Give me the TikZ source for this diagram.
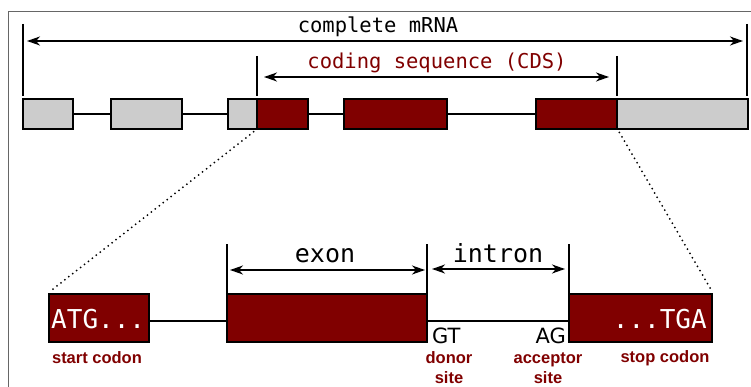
\documentclass[tikz,border=0pt]{standalone}
\usepackage{fontspec}
\setmainfont{Liberation Sans}
\newfontfamily\monof{DejaVu Sans Mono}
\newfontfamily\sansf{DejaVu Sans}
\usetikzlibrary{arrows.meta}
\definecolor{mred}{RGB}{128,0,0}
\definecolor{mgray}{RGB}{204,204,204}
\begin{document}
\begin{tikzpicture}[x=1pt,y=-1pt,
  box/.style={draw=black, line width=1.8pt, inner sep=0pt, minimum height=30pt},
  gbox/.style={box, fill=mgray},
  rbox/.style={box, fill=mred},
  bigbox/.style={draw=black, line width=2pt, inner sep=0pt, minimum height=48pt, fill=mred},
  conn/.style={line width=1.8pt},
  tickline/.style={line width=1.5pt},
  dimarrow/.style={line width=1.5pt, {Stealth[length=13pt,width=9pt,inset=4pt]}-{Stealth[length=13pt,width=9pt,inset=4pt]}},
  dimtxt/.style={font=\monof\fontsize{20.5}{24}\selectfont, inner sep=0pt},
  bigtxt/.style={font=\monof\fontsize{25}{30}\selectfont, inner sep=0pt},
  seqtxt/.style={font=\monof\fontsize{26}{30}\selectfont, inner sep=0pt, text=white},
  sitetxt/.style={font=\sansf\fontsize{21}{25}\selectfont, inner sep=0pt},
  lbl/.style={font=\bfseries\fontsize{16.5}{20}\selectfont, text=mred, inner sep=0pt, align=center},
  dots/.style={line width=2pt, line cap=round, dash pattern=on 0pt off 5pt, shorten <=3pt, shorten >=3pt}
]
\useasboundingbox (0,0) rectangle (751,387);
% frame
\draw[black!60, line width=1pt] (8,387) -- (8,12) -- (751,12);

% top row boxes
\node[gbox, minimum width=50pt] (b1) at (48,114) {};
\node[gbox, minimum width=71pt] (b2) at (146.5,114) {};
\node[gbox, minimum width=29pt] (b3g) at (242.5,114) {};
\node[rbox, minimum width=51pt] (b3r) at (282.5,114) {};
\node[rbox, minimum width=103pt] (b4) at (395.5,114) {};
\node[rbox, minimum width=81pt] (b5r) at (576.5,114) {};
\node[gbox, minimum width=131pt] (b5g) at (682.5,114) {};
\draw[conn] (b1.east) -- (b2.west);
\draw[conn] (b2.east) -- (b3g.west);
\draw[conn] (b3r.east) -- (b4.west);
\draw[conn] (b4.east) -- (b5r.west);

% top dimension lines
\coordinate (mt1) at (23,24);   \coordinate (mb1) at (23,96);
\coordinate (mt2) at (747,24);  \coordinate (mb2) at (747,96);
\coordinate (ct1) at (257,56);  \coordinate (cb1) at (257,96);
\coordinate (ct2) at (617,56);  \coordinate (cb2) at (617,96);
\draw[tickline] (mt1) -- (mb1);
\draw[tickline] (mt2) -- (mb2);
\draw[tickline] (ct1) -- (cb1);
\draw[tickline] (ct2) -- (cb2);
\coordinate (ma) at (23,41); \coordinate (mb) at (747,41);
\coordinate (ca) at (257,77); \coordinate (cb) at (617,77);
\draw[dimarrow, shorten <=4pt, shorten >=4pt] (ma) -- (mb);
\draw[dimarrow, shorten <=7pt, shorten >=8pt] (ca) -- (cb);
\node[dimtxt] (tm) at (378,27) {complete mRNA};
\node[dimtxt, text=mred] (tc) at (437,63) {coding sequence (CDS)};

% bottom row
\node[bigbox, minimum width=100pt] (atg) at (99,318) {};
\node[bigbox, minimum width=200pt] (exon) at (327,318) {};
\node[bigbox, minimum width=143pt] (stop) at (640.5,318) {};
\draw[conn] ([yshift=-3pt]atg.east) -- ([yshift=-3pt]exon.west);
\draw[conn] ([yshift=-3pt]exon.east) -- ([yshift=-3pt]stop.west);
\node[seqtxt, anchor=west] (atgt) at ([xshift=3pt,yshift=-1pt]atg.west) {ATG...};
\node[seqtxt, anchor=east] (tgat) at ([xshift=-6pt,yshift=-1pt]stop.east) {...TGA};

% dotted zoom lines
\draw[dots] (b3r.south west) -- (atg.north west);
\draw[dots] (b5r.south east) -- (stop.north east);

% bottom dimension lines
\coordinate (et1) at (227,244); \coordinate (eb1) at (227,294);
\coordinate (et2) at (427,244); \coordinate (eb2) at (427,294);
\coordinate (et3) at (569,244); \coordinate (eb3) at (569,294);
\draw[tickline] (et1) -- (eb1);
\draw[tickline] (et2) -- (eb2);
\draw[tickline] (et3) -- (eb3);
\coordinate (ea) at (227,270); \coordinate (eb) at (427,270);
\coordinate (ia) at (427,269); \coordinate (ib) at (569,269);
\draw[dimarrow, shorten <=3pt, shorten >=2pt] (ea) -- (eb);
\draw[dimarrow, shorten <=5pt, shorten >=4pt] (ia) -- (ib);
\node[bigtxt] (te) at (325,256) {exon};
\node[bigtxt] (ti) at (498,253) {intron};

% splice sites
\node[sitetxt, anchor=base west] (gt) at (432,343) {GT};
\node[sitetxt, anchor=base east] (ag) at (566,343) {AG};

% labels
\node[lbl] (l1) at (97,358) {start codon};
\node[lbl] (l2) at (449,368) {donor\\site};
\node[lbl] (l3) at (548,368) {acceptor\\site};
\node[lbl] (l4) at (665,358) {stop codon};
\end{tikzpicture}
\end{document}
